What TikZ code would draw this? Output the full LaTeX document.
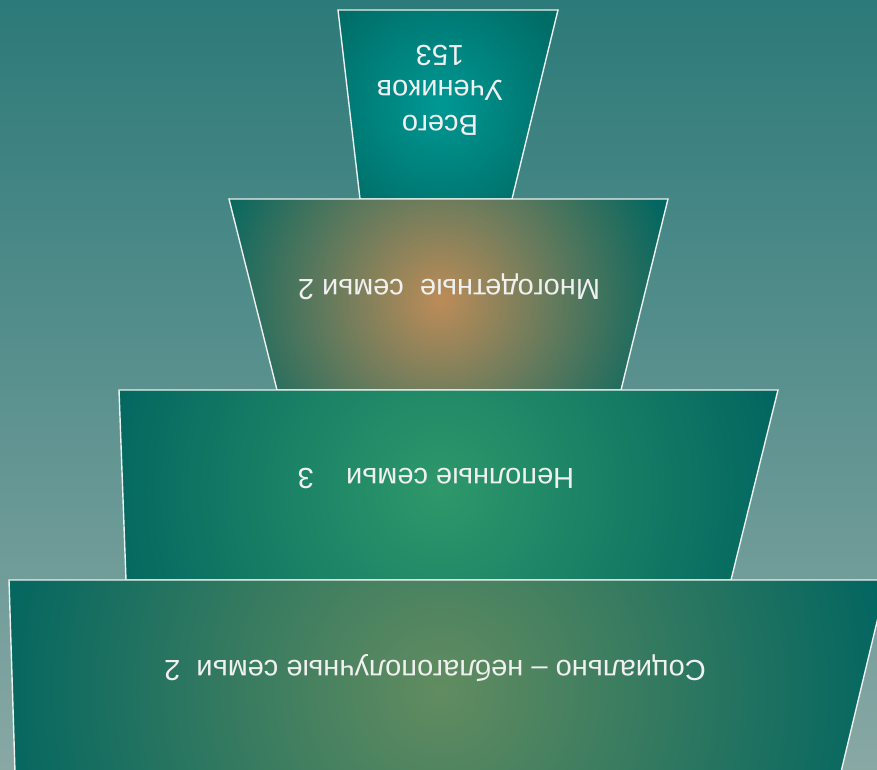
\documentclass[tikz,border=0pt]{standalone}
\usepackage{fontspec}
\setmainfont{Liberation Sans}
\definecolor{bgtop}{RGB}{44,122,121}
\definecolor{bgbot}{RGB}{136,168,164}
\definecolor{edgeteal}{RGB}{2,102,96}
\definecolor{lineW}{RGB}{238,240,238}
\definecolor{txt}{RGB}{240,240,240}
\definecolor{cA}{RGB}{0,152,148}
\definecolor{cAo}{RGB}{0,108,102}
\definecolor{cB}{RGB}{188,140,88}
\definecolor{cC}{RGB}{46,152,106}
\definecolor{cD}{RGB}{98,140,96}
\tikzset{
  level/.style={draw=lineW, line width=1.4pt, line join=miter},
  lbl/.style={text=txt, rotate=180, font=\fontsize{29}{35}\selectfont, align=center, inner sep=0pt}
}
\begin{document}
\begin{tikzpicture}[x=1pt,y=-1pt]
\useasboundingbox (0,0) rectangle (877,770);
\shade[top color=bgtop, bottom color=bgbot] (0,0) rectangle (877,770);
\begin{scope}
\clip (0,0) rectangle (877,770);
% level 1 (top)
\begin{scope}
\clip (338,10) -- (558,10) -- (512,199) -- (360,199) -- cycle;
\fill[cAo] (330,0) rectangle (570,210);
\shade[inner color=cA, outer color=cAo] (440,105) circle (135);
\end{scope}
\draw[level] (338,10) -- (558,10) -- (512,199) -- (360,199) -- cycle;
% level 2
\begin{scope}
\clip (229,199) -- (668,199) -- (621,390) -- (277,390) -- cycle;
\fill[edgeteal] (220,190) rectangle (680,400);
\shade[inner color=cB, outer color=edgeteal] (440,300) circle (240);
\end{scope}
\draw[level] (229,199) -- (668,199) -- (621,390) -- (277,390) -- cycle;
% level 3
\begin{scope}
\clip (119,390) -- (778,390) -- (731,580) -- (126,580) -- cycle;
\fill[edgeteal] (110,380) rectangle (790,590);
\shade[inner color=cC, outer color=edgeteal] (440,490) circle (345);
\end{scope}
\draw[level] (119,390) -- (778,390) -- (731,580) -- (126,580) -- cycle;
% level 4
\begin{scope}
\clip (9,580) -- (887,580) -- (841,772) -- (15,772) -- cycle;
\fill[edgeteal] (0,570) rectangle (900,780);
\shade[inner color=cD, outer color=edgeteal] (440,690) circle (450);
\end{scope}
\draw[level] (9,580) -- (887,580) -- (841,772) -- (15,772) -- cycle;
\end{scope}
\node[lbl] (t1) at (440,90) {Всего\\Учеников\\153};
\node[lbl] (t2) at (449,287) {Многодетные\ \ семьи 2};
\node[lbl] (t3) at (436,478) {Неполные семьи\ \ \ \ 3};
\node[lbl] (t4) at (435,668) {Социально – неблагополучные семьи\ \ 2};
\end{tikzpicture}
\end{document}
